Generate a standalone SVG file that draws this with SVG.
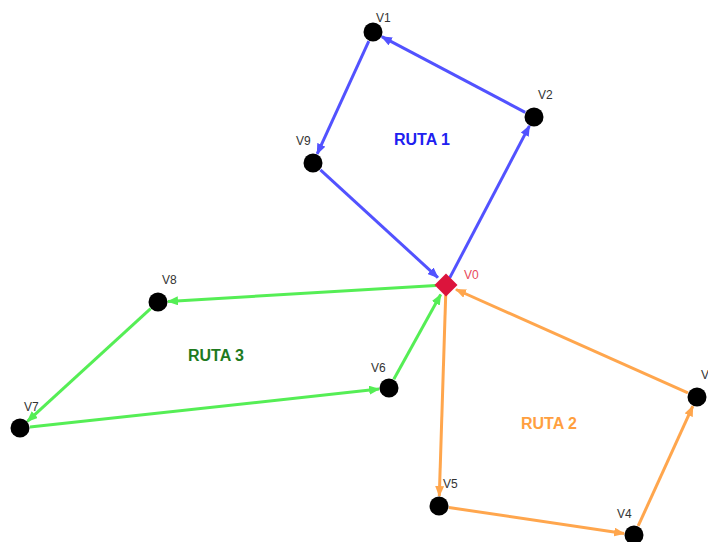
<svg xmlns="http://www.w3.org/2000/svg" width="708" height="542" viewBox="0 0 708 542">
<style>
.e{fill:none;stroke-width:3}
.b{stroke:#5252ff}
.g{stroke:#55ee55}
.o{stroke:#ffa64d}
.n{fill:#000}
.lbl{font-family:"Liberation Sans",Arial,sans-serif;font-size:12px;fill:#333}
.r{font-family:"Liberation Sans",Arial,sans-serif;font-size:16px;font-weight:bold}
</style>
<defs>
<marker id="ab" markerUnits="userSpaceOnUse" markerWidth="11" markerHeight="9" refX="10" refY="4.5" orient="auto"><path d="M0,0 L11,4.5 L0,9 z" fill="#5252ff"/></marker>
<marker id="ag" markerUnits="userSpaceOnUse" markerWidth="11" markerHeight="9" refX="10" refY="4.5" orient="auto"><path d="M0,0 L11,4.5 L0,9 z" fill="#55ee55"/></marker>
<marker id="ao" markerUnits="userSpaceOnUse" markerWidth="11" markerHeight="9" refX="10" refY="4.5" orient="auto"><path d="M0,0 L11,4.5 L0,9 z" fill="#ffa64d"/></marker>
</defs>
<g id="edges">
<line class="e b" x1="449.7" y1="277.9" x2="529.4" y2="125.9" marker-end="url(#ab)"/>
<line class="e b" x1="525.2" y1="112.3" x2="381.8" y2="36.7" marker-end="url(#ab)"/>
<line class="e b" x1="368.8" y1="41.1" x2="317.2" y2="153.9" marker-end="url(#ab)"/>
<line class="e b" x1="320.4" y1="169.8" x2="437.9" y2="277.6" marker-end="url(#ab)"/>
<line class="e g" x1="436" y1="285.6" x2="168" y2="301.4" marker-end="url(#ag)"/>
<line class="e g" x1="150.6" y1="308.7" x2="27.4" y2="421.3" marker-end="url(#ag)"/>
<line class="e g" x1="29.9" y1="426.9" x2="379.1" y2="389.1" marker-end="url(#ag)"/>
<line class="e g" x1="393.8" y1="379.3" x2="440.7" y2="294.6" marker-end="url(#ag)"/>
<line class="e o" x1="445.7" y1="295" x2="439.3" y2="496" marker-end="url(#ao)"/>
<line class="e o" x1="448.9" y1="507.5" x2="624.1" y2="533.5" marker-end="url(#ao)"/>
<line class="e o" x1="638.2" y1="525.9" x2="692.8" y2="406.1" marker-end="url(#ao)"/>
<line class="e o" x1="687.9" y1="392.9" x2="456" y2="289.5" marker-end="url(#ao)"/>
</g>
<g id="V0"><path d="M446,273.5 L457.5,285 L446,296.5 L434.5,285 z" fill="#dc143c"/><text x="464" y="279" class="lbl" style="fill:#e8485a">V0</text></g>
<g id="V1"><circle class="n" cx="373" cy="32" r="9.5"/><text x="376" y="22" class="lbl">V1</text></g>
<g id="V2"><circle class="n" cx="534" cy="117" r="9.5"/><text x="538" y="99" class="lbl">V2</text></g>
<g id="V3"><circle class="n" cx="697" cy="397" r="9.5"/><text x="701" y="379" class="lbl">V3</text></g>
<g id="V4"><circle class="n" cx="634" cy="535" r="9.5"/><text x="617" y="518" class="lbl">V4</text></g>
<g id="V5"><circle class="n" cx="439" cy="506" r="9.5"/><text x="443" y="488" class="lbl">V5</text></g>
<g id="V6"><circle class="n" cx="389" cy="388" r="9.5"/><text x="371" y="372" class="lbl">V6</text></g>
<g id="V7"><circle class="n" cx="20" cy="428" r="9.5"/><text x="24" y="411" class="lbl">V7</text></g>
<g id="V8"><circle class="n" cx="158" cy="302" r="9.5"/><text x="162" y="284" class="lbl">V8</text></g>
<g id="V9"><circle class="n" cx="313" cy="163" r="9.5"/><text x="296" y="145" class="lbl">V9</text></g>
<g id="labels">
<text x="422" y="145" class="r" text-anchor="middle" fill="#2020f0">RUTA 1</text>
<text x="549" y="429" class="r" text-anchor="middle" fill="#ff9f3f">RUTA 2</text>
<text x="216" y="361" class="r" text-anchor="middle" fill="#1e7a1e">RUTA 3</text>
</g>
</svg>
